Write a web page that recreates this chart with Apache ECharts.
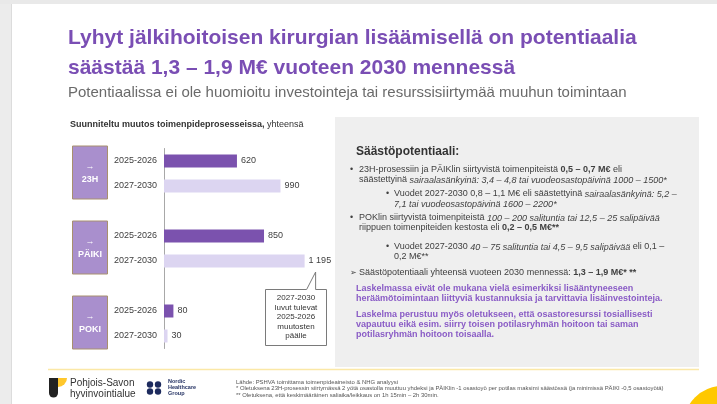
<!DOCTYPE html>
<html>
<head>
<meta charset="utf-8">
<title>Säästöpotentiaali</title>
<script src="https://cdn.jsdelivr.net/npm/echarts@6/dist/echarts.min.js"></script>
<style>
    html, body { margin: 0; padding: 0; background: #fff; }
    #main { width: 717px; height: 404px; }
</style>
</head>
<body>
<div id="main"></div>
<script>
//==================== 数据 ====================//
var groups = ['23H', 'PÄIKI', 'POKI'];
var periods = ['2025-2026', '2027-2030'];
var values2025 = [620, 850, 80];     // 2025-2026
var values2027 = [990, 1195, 30];    // 2027-2030

var FONT = '"Liberation Sans", Arial, sans-serif';
var PURPLE = '#7A4EB4';
var DARK_BAR = '#7B52AE';
var LIGHT_BAR = '#DCD5F1';
var GREY_TEXT = '#404040';

// 分类（组之间留一个空行）
var cats = [];
var barData = [];
groups.forEach(function (g, i) {
    if (i > 0) {
        cats.push('gap' + i);
        barData.push('-');
    }
    cats.push(g + '|' + periods[0]);
    barData.push({ value: values2025[i], itemStyle: { color: DARK_BAR } });
    cats.push(g + '|' + periods[1]);
    barData.push({ value: values2027[i], itemStyle: { color: LIGHT_BAR } });
});

function fmtNum(v) {
    return String(v).replace(/\B(?=(\d{3})+(?!\d))/g, ' ');
}

var myChart = echarts.init(document.getElementById('main'));

var option = {
    animation: false,
    grid: { left: 164, top: 148.5, width: 176.5, height: 200 },
    xAxis: { type: 'value', min: 0, max: 1500, show: false },
    yAxis: {
        type: 'category',
        inverse: true,
        data: cats,
        axisLine: { lineStyle: { color: '#a8a8a8', width: 1 } },
        axisTick: { show: false },
        axisLabel: {
            color: GREY_TEXT,
            fontSize: 9,
            fontFamily: FONT,
            margin: 7,
            formatter: function (name) {
                return name.indexOf('|') > 0 ? name.split('|')[1] : '';
            }
        }
    },
    series: [
        {
            type: 'bar',
            data: barData,
            barWidth: 13,
            label: {
                show: true,
                position: 'right',
                distance: 4,
                color: GREY_TEXT,
                fontSize: 9,
                fontFamily: FONT,
                formatter: function (p) { return fmtNum(p.value); }
            }
        }
    ]
};
myChart.setOption(option);

/**
 * 文本元素（普通段落也包成 {r|...}，保证同一基线）
 * */
function txt(x, y, text, o) {
    o = o || {};
    var size = o.size || 9;
    var color = o.color || GREY_TEXT;
    var weight = o.weight || 'normal';
    var lh = Math.round(size * 1.25);
    var wrapped = text.split(/(\{[bi]\|[^}]*\})/).map(function (s) {
        if (!s) return '';
        return s.charAt(0) === '{' ? s : '{r|' + s + '}';
    }).join('');
    return {
        type: 'text',
        silent: true,
        style: {
            x: x,
            y: y,
            text: wrapped,
            fontSize: size,
            fontFamily: FONT,
            fill: color,
            align: o.align || 'left',
            verticalAlign: 'middle',
            rich: {
                r: { fontSize: size, fontFamily: FONT, fontWeight: weight, fill: color, lineHeight: lh, verticalAlign: 'middle' },
                b: { fontSize: size, fontFamily: FONT, fontWeight: 'bold', fill: color, lineHeight: lh, verticalAlign: 'middle' },
                i: { fontSize: size, fontFamily: FONT, fontStyle: 'italic', fontWeight: weight, fill: color, lineHeight: lh, verticalAlign: 'middle' }
            }
        }
    };
}

var g = [];

// 背景边缘
g.push({ type: 'rect', silent: true, shape: { x: 0, y: 0, width: 12, height: 404 }, style: { fill: '#ececec' } });
g.push({ type: 'rect', silent: true, shape: { x: 0, y: 0, width: 717, height: 4 }, style: { fill: '#e9e9e9' } });
g.push({ type: 'line', silent: true, shape: { x1: 11.5, y1: 4, x2: 11.5, y2: 404 }, style: { stroke: '#dcdcdc', lineWidth: 1 } });

// 标题
g.push(txt(68, 38, 'Lyhyt jälkihoitoisen kirurgian lisäämisellä on potentiaalia', { size: 21, weight: 'bold', color: PURPLE }));
g.push(txt(68, 68, 'säästää 1,3 – 1,9 M€ vuoteen 2030 mennessä', { size: 21, weight: 'bold', color: PURPLE }));
g.push(txt(68, 93, 'Potentiaalissa ei ole huomioitu investointeja tai resurssisiirtymää muuhun toimintaan', { size: 15, color: '#6a6a6a' }));

// 图表标题
g.push(txt(70, 125, '{b|Suunniteltu muutos toimenpideprosesseissa,} yhteensä', { size: 9, color: '#333' }));

// 分组方框
groups.forEach(function (name, i) {
    var y1 = myChart.convertToPixel({ yAxisIndex: 0 }, name + '|' + periods[0]);
    var y2 = myChart.convertToPixel({ yAxisIndex: 0 }, name + '|' + periods[1]);
    var top = y1 - 15, bottom = y2 + 13;
    g.push({
        type: 'rect', silent: true,
        shape: { x: 72.5, y: top, width: 35, height: bottom - top },
        style: { fill: '#A98FCD', stroke: '#A8906E', lineWidth: 1 }
    });
    var cy = (top + bottom) / 2;
    g.push(txt(90, cy - 6, '→', { size: 9, color: '#fff', weight: 'bold', align: 'center' }));
    g.push(txt(90, cy + 7, name, { size: 9, color: '#fff', weight: 'bold', align: 'center' }));
});

// 说明框（指向 PÄIKI 2027-2030）
var tipX = myChart.convertToPixel({ xAxisIndex: 0 }, values2027[1]) + 11;
var tipY = myChart.convertToPixel({ yAxisIndex: 0 }, groups[1] + '|' + periods[1]) + 11;
var bx = 265.5, by = 289.5, bw = 61, bh = 56;
g.push({
    type: 'polygon', silent: true,
    shape: { points: [[bx, by], [tipX - 9, by], [tipX, tipY], [tipX, by], [bx + bw, by], [bx + bw, by + bh], [bx, by + bh]] },
    style: { fill: '#fff', stroke: '#7a7a7a', lineWidth: 1 }
});
['2027-2030', 'luvut tulevat', '2025-2026', 'muutosten', 'päälle'].forEach(function (s, i) {
    g.push(txt(bx + bw / 2, 298 + i * 9.5, s, { size: 8, color: '#333', align: 'center' }));
});

// 右侧面板
g.push({ type: 'rect', silent: true, shape: { x: 335, y: 117, width: 364, height: 250 }, style: { fill: '#efefef' } });
g.push(txt(356, 152, 'Säästöpotentiaali:', { size: 12, weight: 'bold', color: '#333' }));

var B1 = 350, T1 = 359, B2 = 386, T2 = 394;
g.push(txt(B1, 170, '•'));
g.push(txt(T1, 170, '23H-prosessiin ja PÄIKlin siirtyvistä toimenpiteistä {b|0,5 – 0,7 M€} eli'));
g.push(txt(T1, 180, 'säästettyinä {i|sairaalasänkyinä: 3,4 – 4,8 tai vuodeosastopäivinä 1000 – 1500*}'));
g.push(txt(B2, 194, '•'));
g.push(txt(T2, 194, 'Vuodet 2027-2030 0,8 – 1,1 M€ eli säästettyinä {i|sairaalasänkyinä: 5,2 –}'));
g.push(txt(T2, 204, '{i|7,1 tai vuodeosastopäivinä 1600 – 2200*}'));
g.push(txt(B1, 218, '•'));
g.push(txt(T1, 218, 'POKlin siirtyvistä toimenpiteistä {i|100 – 200 salituntia tai 12,5 – 25 salipäivää}'));
g.push(txt(T1, 228, 'riippuen toimenpiteiden kestosta eli {b|0,2 – 0,5 M€**}'));
g.push(txt(B2, 247, '•'));
g.push(txt(T2, 247, 'Vuodet 2027-2030 {i|40 – 75 salituntia tai 4,5 – 9,5 salipäivää} eli 0,1 –'));
g.push(txt(T2, 257, '0,2 M€**'));
g.push(txt(B1, 273, '➢', { size: 7.5 }));
g.push(txt(T1, 273, 'Säästöpotentiaali yhteensä vuoteen 2030 mennessä: {b|1,3 – 1,9 M€* **}'));

var PT = '#8A5CC6';
var PX = 356;
g.push(txt(PX, 289, 'Laskelmassa eivät ole mukana vielä esimerkiksi lisääntyneeseen', { weight: 'bold', color: PT }));
g.push(txt(PX, 299, 'heräämötoimintaan liittyviä kustannuksia ja tarvittavia lisäinvestointeja.', { weight: 'bold', color: PT }));
g.push(txt(PX, 315, 'Laskelma perustuu myös oletukseen, että osastoresurssi tosiallisesti', { weight: 'bold', color: PT }));
g.push(txt(PX, 325, 'vapautuu eikä esim. siirry toisen potilasryhmän hoitoon tai saman', { weight: 'bold', color: PT }));
g.push(txt(PX, 335, 'potilasryhmän hoitoon toisaalla.', { weight: 'bold', color: PT }));

// 页脚
g.push({ type: 'line', silent: true, shape: { x1: 48, y1: 369.5, x2: 699, y2: 369.5 }, style: { stroke: '#FBE8A6', lineWidth: 1.5 } });
// Pohjois-Savon logo
g.push({ type: 'rect', silent: true, shape: { x: 49, y: 378, width: 9, height: 15 }, style: { fill: '#222' } });
g.push({ type: 'circle', silent: true, shape: { cx: 53.5, cy: 393, r: 4.5 }, style: { fill: '#222' } });
g.push({ type: 'sector', silent: true, shape: { cx: 58, cy: 378, r0: 0, r: 9, startAngle: 0, endAngle: Math.PI / 2, clockwise: true }, style: { fill: '#FFC72C' } });
g.push(txt(70, 383, 'Pohjois-Savon', { size: 10, color: '#333' }));
g.push(txt(70, 394, 'hyvinvointialue', { size: 10, color: '#333' }));
// NHG logo
[[150, 384.5], [158, 384.5], [150, 391.5], [158, 391.5]].forEach(function (p) {
    g.push({ type: 'circle', silent: true, shape: { cx: p[0], cy: p[1], r: 3.2 }, style: { fill: '#1d2b5e' } });
});
g.push(txt(168, 381, 'Nordic', { size: 5.5, weight: 'bold', color: '#1d2b5e' }));
g.push(txt(168, 387, 'Healthcare', { size: 5.5, weight: 'bold', color: '#1d2b5e' }));
g.push(txt(168, 393.5, 'Group', { size: 5.5, weight: 'bold', color: '#1d2b5e' }));

g.push(txt(236, 382, 'Lähde: PSHVA toimittama toimenpideaineisto & NHG analyysi', { size: 5.9, color: '#555' }));
g.push(txt(236, 388.5, '* Oletuksena 23H-prosessin siirtymässä 2 yötä osastolla muuttuu yhdeksi ja PÄIKlin -1 osastoyö per potilas maksimi säästössä (ja minimissä PÄIKI -0,5 osastoyötä)', { size: 5.9, color: '#555' }));
g.push(txt(236, 395, '** Oletuksena, että keskimääräinen saliaika/leikkaus on 1h 15min – 2h 30min.', { size: 5.9, color: '#555' }));

// 右下角黄色圆
g.push({ type: 'circle', silent: true, shape: { cx: 722, cy: 424, r: 38 }, style: { fill: '#FFC800' } });

myChart.setOption({ graphic: { elements: g } });
</script>
</body>
</html>
